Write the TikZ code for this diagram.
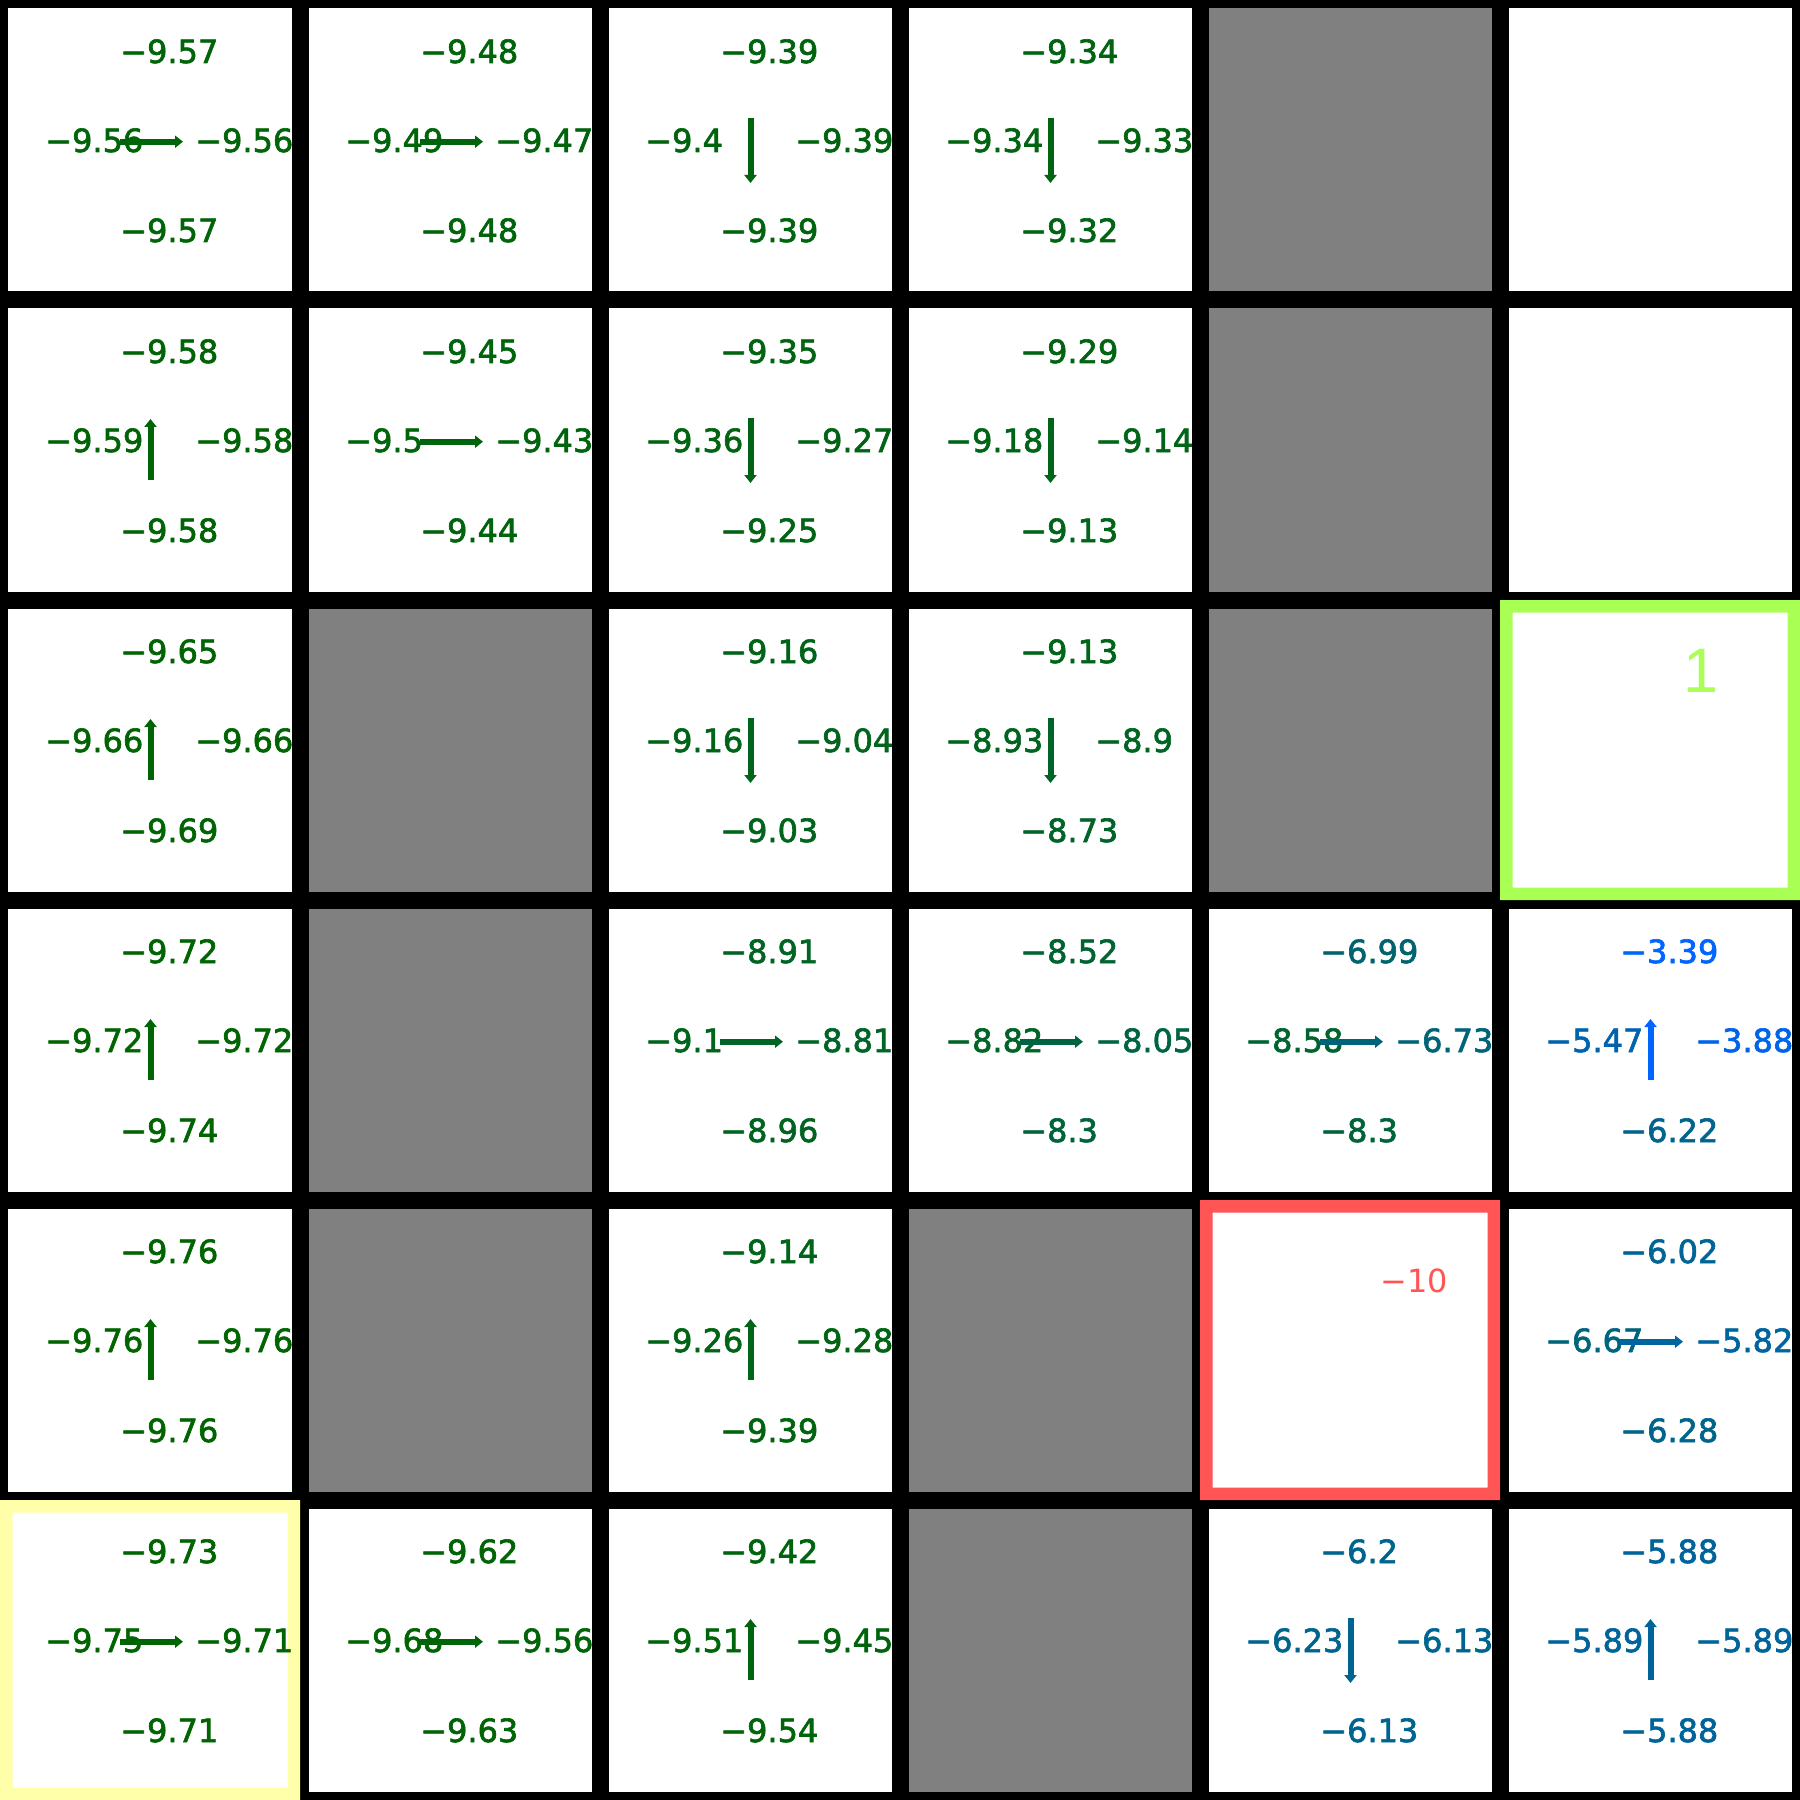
\documentclass[tikz,border=0pt]{standalone}
\usepackage{fontspec}
\setmainfont{DejaVu Sans}
\newfontfamily\qfont{DejaVu Sans}[FakeBold=2]
\newfontfamily\goalfont{Liberation Sans}
\usetikzlibrary{arrows.meta}

\definecolor{qgreen}{RGB}{0,100,0}
\definecolor{qblue}{RGB}{0,100,255}
\definecolor{wallgray}{RGB}{128,128,128}
\definecolor{goalc}{RGB}{170,255,85}
\definecolor{trapc}{RGB}{255,85,85}
\definecolor{startc}{RGB}{255,255,170}

\tikzset{
  qval/.style={font=\qfont\fontsize{9.1}{11}\selectfont, inner sep=0pt, anchor=base west},
  qarrow/.style={line width=0.6mm, -{Triangle[length=0.8mm,width=1.2mm]}},
  gridline/.style={line width=1.7mm, black},
}

% one cell: row, col, up, left, right, down, action (u/d/r)
\newcommand{\qcell}[7]{%
  \begin{scope}[shift={(300*#2,300*#1)}]
    \pgfmathsetmacro\pu{100*(9.76-#3)/6.37}
    \pgfmathsetmacro\pl{100*(9.76-#4)/6.37}
    \pgfmathsetmacro\pr{100*(9.76-#5)/6.37}
    \pgfmathsetmacro\pd{100*(9.76-#6)/6.37}
    \colorlet{qc-u}{qblue!\pu!qgreen}
    \colorlet{qc-l}{qblue!\pl!qgreen}
    \colorlet{qc-r}{qblue!\pr!qgreen}
    \colorlet{qc-d}{qblue!\pd!qgreen}
    \node[qval, text=qc-u] (q#1#2u) at (119.6,63) {−#3};
    \node[qval, text=qc-l] (q#1#2l) at (44.6,152) {−#4};
    \node[qval, text=qc-r] (q#1#2r) at (194.6,152) {−#5};
    \node[qval, text=qc-d] (q#1#2d) at (119.6,242) {−#6};
    \coordinate (r0) at (120,141.7); \coordinate (r1) at (183,141.7);
    \coordinate (u0) at (150.5,180); \coordinate (u1) at (150.5,119);
    \coordinate (d0) at (150.5,118); \coordinate (d1) at (150.5,183);
    \draw[qarrow, qc-#7] (#70) -- (#71);
  \end{scope}}

\newcommand{\wall}[2]{\fill[wallgray] (300*#2,300*#1) rectangle +(300,300);}

\begin{document}
\begin{tikzpicture}[x=0.1mm,y=-0.1mm]
  \useasboundingbox (0,0) rectangle (1800,1800);
  \fill[white] (0,0) rectangle (1800,1800);

  % walls
  \wall{0}{4} \wall{1}{4} \wall{2}{1} \wall{2}{4}
  \wall{3}{1} \wall{4}{1} \wall{4}{3} \wall{5}{3}

  % grid
  \foreach \i in {0,...,6} {
    \draw[gridline] (300*\i,-20) -- (300*\i,1820);
    \draw[gridline] (-20,300*\i) -- (1820,300*\i);
  }

  % goal, trap and start frames
  \fill[goalc, even odd rule] (1500,600) rectangle (1800,900) (1512.5,612.5) rectangle (1787.5,887.5);
  \fill[trapc, even odd rule] (1200,1200) rectangle (1500,1500) (1212.5,1212.5) rectangle (1487.5,1487.5);
  \fill[startc, even odd rule] (0,1500) rectangle (300,1800) (12.5,1512.5) rectangle (287.5,1787.5);
  \node[inner sep=0pt, anchor=base west, text=goalc, font=\goalfont\fontsize{17.9}{20}\selectfont] (goal) at (1683,692) {1};
  \node[inner sep=0pt, anchor=base west, text=trapc, font=\fontsize{9.1}{11}\selectfont] (trap) at (1379.6,1292) {−10};

  \qcell{0}{0}{9.57}{9.56}{9.56}{9.57}{r}
  \qcell{0}{1}{9.48}{9.49}{9.47}{9.48}{r}
  \qcell{0}{2}{9.39}{9.4}{9.39}{9.39}{d}
  \qcell{0}{3}{9.34}{9.34}{9.33}{9.32}{d}
  \qcell{1}{0}{9.58}{9.59}{9.58}{9.58}{u}
  \qcell{1}{1}{9.45}{9.5}{9.43}{9.44}{r}
  \qcell{1}{2}{9.35}{9.36}{9.27}{9.25}{d}
  \qcell{1}{3}{9.29}{9.18}{9.14}{9.13}{d}
  \qcell{2}{0}{9.65}{9.66}{9.66}{9.69}{u}
  \qcell{2}{2}{9.16}{9.16}{9.04}{9.03}{d}
  \qcell{2}{3}{9.13}{8.93}{8.9}{8.73}{d}
  \qcell{3}{0}{9.72}{9.72}{9.72}{9.74}{u}
  \qcell{3}{2}{8.91}{9.1}{8.81}{8.96}{r}
  \qcell{3}{3}{8.52}{8.82}{8.05}{8.3}{r}
  \qcell{3}{4}{6.99}{8.58}{6.73}{8.3}{r}
  \qcell{3}{5}{3.39}{5.47}{3.88}{6.22}{u}
  \qcell{4}{0}{9.76}{9.76}{9.76}{9.76}{u}
  \qcell{4}{2}{9.14}{9.26}{9.28}{9.39}{u}
  \qcell{4}{5}{6.02}{6.67}{5.82}{6.28}{r}
  \qcell{5}{0}{9.73}{9.75}{9.71}{9.71}{r}
  \qcell{5}{1}{9.62}{9.68}{9.56}{9.63}{r}
  \qcell{5}{2}{9.42}{9.51}{9.45}{9.54}{u}
  \qcell{5}{4}{6.2}{6.23}{6.13}{6.13}{d}
  \qcell{5}{5}{5.88}{5.89}{5.89}{5.88}{u}
\end{tikzpicture}
\end{document}
